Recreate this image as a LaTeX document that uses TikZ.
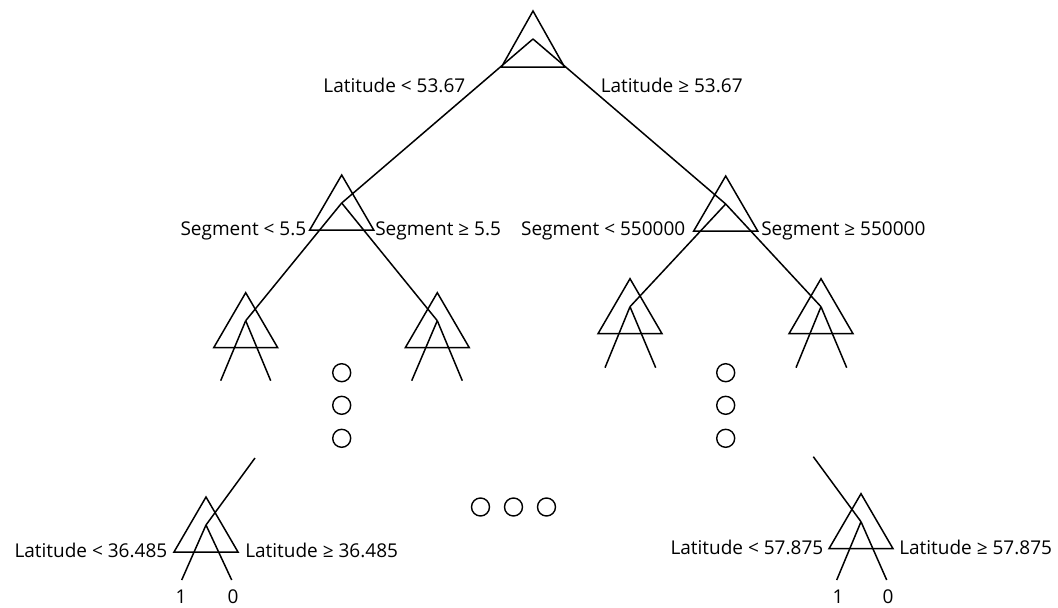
\documentclass[tikz,border=0pt]{standalone}
\usepackage{fontspec}
\setmainfont{Open Sans}
\usetikzlibrary{calc}
\begin{document}
\begin{tikzpicture}[x=1pt,y=-1pt, line width=1.5pt, line join=miter,
  lbl/.style={inner sep=0pt, font=\fontsize{19}{22}\selectfont},
  dot/.style={circle, draw, minimum size=18pt, inner sep=0pt, line width=1.4pt},
  tri/.style={draw}]
\useasboundingbox (0,0) rectangle (1058,608);
\newcommand\mytri[1]{\draw ($(#1)+(0,-28)$) -- ($(#1)+(-32,27)$) -- ($(#1)+(32,27)$) -- cycle;}
% inner apexes
\coordinate (r)  at (533,39);
\coordinate (a)  at (341.7,203);
\coordinate (b)  at (725.7,204);
\coordinate (aa) at (245.7,320.7);
\coordinate (ab) at (437.3,320.7);
\coordinate (ba) at (630,306.7);
\coordinate (bb) at (821,306.7);
\coordinate (L)  at (206,525);
\coordinate (R)  at (861,521.7);
% free ends
\coordinate (aa1) at (220.7,380.7);
\coordinate (aa2) at (270.7,380.7);
\coordinate (ab1) at (411.7,380.7);
\coordinate (ab2) at (462.3,380.7);
\coordinate (ba1) at (605,367.7);
\coordinate (ba2) at (655.7,367.7);
\coordinate (bb1) at (796,367.7);
\coordinate (bb2) at (846.7,367.7);
\coordinate (Lin) at (255,458);
\coordinate (Rin) at (813.3,456.7);
\coordinate (L1) at (181.7,580);
\coordinate (L2) at (231.7,580);
\coordinate (R1) at (836.7,580);
\coordinate (R2) at (886.7,580);
% triangles
\draw ($(r)+(0,-28)$) -- ($(r)+(-31.5,28)$) -- ($(r)+(31.5,28)$) -- cycle;
\mytri{a}
\mytri{b}
\mytri{aa}
\mytri{ab}
\mytri{ba}
\mytri{bb}
\mytri{L}
\mytri{R}
% edges
\draw (r) -- (a);
\draw (r) -- (b);
\draw (a) -- (aa);
\draw (a) -- (ab);
\draw (b) -- (ba);
\draw (b) -- (bb);
\draw (aa) -- (aa1); \draw (aa) -- (aa2);
\draw (ab) -- (ab1); \draw (ab) -- (ab2);
\draw (ba) -- (ba1); \draw (ba) -- (ba2);
\draw (bb) -- (bb1); \draw (bb) -- (bb2);
\draw (Lin) -- (L);
\draw (Rin) -- (R);
\draw (L) -- (L1); \draw (L) -- (L2);
\draw (R) -- (R1); \draw (R) -- (R2);
% labels
\node[lbl, anchor=base east] (t1) at (466,92.5) {Latitude < 53.67};
\node[lbl, anchor=base west] (t2) at (600,92.5) {Latitude ≥ 53.67};
\node[lbl, anchor=base east] (t3) at (307,235.7) {Segment < 5.5};
\node[lbl, anchor=base west] (t4) at (374.5,235.7) {Segment ≥ 5.5};
\node[lbl, anchor=base east] (t5) at (686,235.7) {Segment < 550000};
\node[lbl, anchor=base west] (t6) at (760.5,235.7) {Segment ≥ 550000};
\node[lbl, anchor=base east] (t7) at (168,557) {Latitude < 36.485};
\node[lbl, anchor=base west] (t8) at (244.5,557) {Latitude ≥ 36.485};
\node[lbl, anchor=base east] (t9) at (824,554) {Latitude < 57.875};
\node[lbl, anchor=base west] (t10) at (898.5,554) {Latitude ≥ 57.875};
\node[lbl, anchor=base] (o1) at (181,603) {1};
\node[lbl, anchor=base] (o2) at (233,603) {0};
\node[lbl, anchor=base] (o3) at (838,603) {1};
\node[lbl, anchor=base] (o4) at (888,603) {0};
% ellipsis circles
\node[dot] (c1) at (341.7,372.7) {};
\node[dot] (c2) at (341.7,405.3) {};
\node[dot] (c3) at (341.7,438.3) {};
\node[dot] (c4) at (725.7,372.7) {};
\node[dot] (c5) at (725.7,405.3) {};
\node[dot] (c6) at (725.7,438.3) {};
\node[dot] (c7) at (480.5,507) {};
\node[dot] (c8) at (513.5,507) {};
\node[dot] (c9) at (546.5,507) {};
\end{tikzpicture}
\end{document}
